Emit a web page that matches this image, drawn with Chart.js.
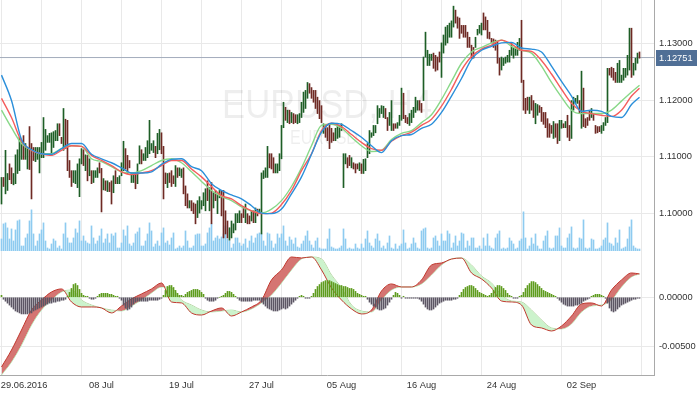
<!DOCTYPE html>
<html lang="en">
<head>
<meta charset="UTF-8">
<title>EURUSD, H4</title>
<script src="https://cdn.jsdelivr.net/npm/chart.js"></script>
<style>
  body { margin: 0; background: #fff; }
  #wrap { position: relative; width: 700px; height: 394px; }
  #priceBox { position: absolute; left: 0; top: 0; width: 700px; height: 251px; }
  #macdBox { position: absolute; left: 0; top: 251px; width: 700px; height: 143px; }
</style>
</head>
<body>
<div id="wrap">
  <div id="priceBox"><canvas id="priceChart"></canvas></div>
  <div id="macdBox"><canvas id="macdChart"></canvas></div>
</div>
<script>
// EURUSD H4 bars (bar 0 = first bar on the left)
const barHigh = [
  1.1063,1.1063,1.1111,1.1070,1.1087,1.1080,1.1070,1.1103,1.1112,1.1134,
  1.1128,1.1137,1.1123,1.1116,1.1153,1.1123,1.1116,1.1116,1.1116,1.1116,
  1.1125,1.1169,1.1148,1.1137,1.1141,1.1142,1.1144,1.1146,1.1158,1.1158,
  1.1134,1.1185,1.1166,1.1164,1.1093,1.1075,1.1075,1.1075,1.1087,1.1096,
  1.1114,1.1112,1.1103,1.1102,1.1096,1.1075,1.1075,1.1075,1.1080,1.1089,
  1.1079,1.1061,1.1057,1.1057,1.1054,1.1057,1.1066,1.1075,1.1063,1.1066,
  1.1089,1.1127,1.1114,1.1102,1.1093,1.1071,1.1070,1.1071,1.1087,1.1119,
  1.1112,1.1105,1.1116,1.1128,1.1164,1.1123,1.1128,1.1118,1.1141,1.1148,
  1.1142,1.1118,1.1071,1.1070,1.1071,1.1075,1.1066,1.1084,1.1080,1.1080,
  1.1078,1.1080,1.1048,1.1034,1.1022,1.1022,1.1018,1.1016,1.1022,1.1029,
  1.1022,1.1036,1.1043,1.1057,1.1045,1.1054,1.1036,1.1040,1.1034,1.1040,
  1.1040,1.1040,1.1004,1.0986,1.0974,1.0986,1.0981,1.0999,1.0999,1.1004,
  1.0999,1.1009,1.1016,1.0999,1.0995,1.1004,1.1004,1.1009,1.1007,1.1007,
  1.1071,1.1075,1.1080,1.1118,1.1105,1.1105,1.1098,1.1087,1.1087,1.1105,
  1.1155,1.1196,1.1187,1.1182,1.1182,1.1178,1.1176,1.1174,1.1174,1.1176,
  1.1196,1.1214,1.1217,1.1231,1.1229,1.1222,1.1217,1.1217,1.1205,1.1199,
  1.1190,1.1158,1.1155,1.1151,1.1158,1.1150,1.1142,1.1150,1.1155,1.1155,
  1.1158,1.1105,1.1105,1.1098,1.1102,1.1098,1.1089,1.1087,1.1087,1.1089,
  1.1087,1.1095,1.1096,1.1123,1.1146,1.1142,1.1155,1.1155,1.1190,1.1185,
  1.1190,1.1189,1.1185,1.1169,1.1178,1.1199,1.1158,1.1158,1.1160,1.1173,
  1.1221,1.1212,1.1173,1.1169,1.1176,1.1182,1.1187,1.1205,1.1199,1.1199,
  1.1194,1.1276,1.1320,1.1288,1.1281,1.1281,1.1283,1.1279,1.1276,1.1285,
  1.1301,1.1315,1.1329,1.1332,1.1336,1.1340,1.1366,1.1359,1.1347,1.1345,
  1.1332,1.1332,1.1332,1.1320,1.1311,1.1297,1.1293,1.1311,1.1325,1.1332,
  1.1336,1.1354,1.1347,1.1341,1.1320,1.1309,1.1308,1.1306,1.1302,1.1274,
  1.1276,1.1274,1.1276,1.1279,1.1288,1.1301,1.1293,1.1293,1.1302,1.1309,
  1.1341,1.1235,1.1203,1.1205,1.1205,1.1208,1.1199,1.1194,1.1192,1.1190,
  1.1187,1.1178,1.1178,1.1167,1.1158,1.1155,1.1162,1.1158,1.1158,1.1164,
  1.1164,1.1158,1.1162,1.1173,1.1155,1.1199,1.1205,1.1203,1.1208,1.1199,
  1.1251,1.1221,1.1167,1.1169,1.1182,1.1185,1.1176,1.1155,1.1153,1.1153,
  1.1155,1.1160,1.1169,1.1256,1.1256,1.1258,1.1256,1.1249,1.1265,1.1270,
  1.1244,1.1256,1.1256,1.1279,1.1327,1.1327,1.1265,1.1274,1.1283,1.1285
];
const barLow = [
  1.1016,1.1047,1.1034,1.1040,1.1059,1.1052,1.1050,1.1052,1.1070,1.1075,
  1.1095,1.1095,1.1095,1.1078,1.1077,1.1025,1.1093,1.1091,1.1095,1.1071,
  1.1098,1.1098,1.1111,1.1125,1.1125,1.1102,1.1116,1.1128,1.1128,1.1137,
  1.1123,1.1111,1.1114,1.1075,1.1063,1.1047,1.1054,1.1052,1.1045,1.1029,
  1.1087,1.1084,1.1075,1.1057,1.1066,1.1052,1.1054,1.1063,1.1063,1.1071,
  1.1002,1.1041,1.1040,1.1038,1.1038,1.1016,1.1036,1.1052,1.1052,1.1052,
  1.1066,1.1075,1.1078,1.1070,1.1080,1.1054,1.1054,1.1043,1.1052,1.1087,
  1.1087,1.1093,1.1093,1.1098,1.1105,1.1111,1.1107,1.1098,1.1105,1.1112,
  1.1105,1.1025,1.1052,1.1045,1.1054,1.1047,1.1052,1.1047,1.1063,1.1066,
  1.1063,1.1034,1.1013,1.1009,1.1009,1.1004,1.0999,1.0981,1.0992,1.1000,
  1.1007,1.1013,1.1004,1.1022,1.1004,1.0981,1.1009,1.1022,1.0999,1.1027,
  1.0995,1.0956,1.0963,1.0956,1.0952,1.0956,1.0965,1.0970,1.0983,1.0983,
  1.0983,1.0992,1.0983,1.0981,1.0981,1.0986,1.0983,1.0983,1.0995,1.0999,
  1.0963,1.1061,1.1063,1.1063,1.1080,1.1078,1.1071,1.1071,1.1071,1.1075,
  1.1096,1.1151,1.1164,1.1160,1.1158,1.1160,1.1158,1.1160,1.1158,1.1160,
  1.1169,1.1178,1.1185,1.1203,1.1212,1.1203,1.1196,1.1185,1.1176,1.1167,
  1.1160,1.1141,1.1134,1.1128,1.1114,1.1125,1.1128,1.1128,1.1132,1.1134,
  1.1146,1.1045,1.1087,1.1080,1.1084,1.1080,1.1078,1.1071,1.1078,1.1075,
  1.1070,1.1070,1.1075,1.1098,1.1105,1.1134,1.1137,1.1142,1.1158,1.1169,
  1.1176,1.1169,1.1167,1.1146,1.1155,1.1146,1.1146,1.1150,1.1150,1.1155,
  1.1164,1.1167,1.1160,1.1158,1.1155,1.1160,1.1169,1.1178,1.1182,1.1182,
  1.1178,1.1199,1.1276,1.1261,1.1261,1.1270,1.1256,1.1251,1.1253,1.1267,
  1.1240,1.1283,1.1297,1.1301,1.1311,1.1311,1.1329,1.1336,1.1327,1.1309,
  1.1318,1.1311,1.1311,1.1293,1.1293,1.1274,1.1274,1.1293,1.1315,1.1318,
  1.1315,1.1324,1.1324,1.1309,1.1308,1.1301,1.1293,1.1288,1.1265,1.1244,
  1.1253,1.1261,1.1265,1.1267,1.1267,1.1279,1.1274,1.1279,1.1279,1.1288,
  1.1231,1.1182,1.1176,1.1182,1.1176,1.1182,1.1169,1.1158,1.1173,1.1178,
  1.1162,1.1157,1.1151,1.1134,1.1134,1.1141,1.1132,1.1134,1.1123,1.1128,
  1.1150,1.1151,1.1151,1.1134,1.1128,1.1132,1.1182,1.1194,1.1194,1.1176,
  1.1150,1.1153,1.1151,1.1155,1.1164,1.1169,1.1164,1.1141,1.1142,1.1144,
  1.1141,1.1146,1.1155,1.1160,1.1244,1.1240,1.1235,1.1231,1.1231,1.1231,
  1.1231,1.1235,1.1240,1.1244,1.1253,1.1240,1.1244,1.1253,1.1265,1.1274
];
// u = close above open, d = close below open
const barDir = [
  'uduudduuuu','uduuddduuu','uuuuuuuuud','dudddduuuu','udududuuud',
  'dududduduu','uuddduuduu','duuuuuuduu','dddudddudu','uddduddduu',
  'uuudududuu','dddduuuuuu','dduddududu','uuuuddduuu','uudududduu',
  'uuuudddddd','duddddduuu','uuuddudddu','duuuuuuuuu','uudduudduu',
  'uddduuuuud','duuuuudddd','uuuuuuuddd','ddddddduuu','uddddddddd',
  'uuuuuuuuuu','ddddudduud','dddddduddu','ududduuuud','uddddudddd',
  'uuuudddduu','uuuuuduuud'
].join('');
const tickVolume = [
  12,27,28,23,12,22,10,21,30,31,5,5,13,17,30,41,17,5,10,17,21,28,10,3,2,7,12,10,3,5,
  2,17,28,13,8,8,13,22,18,30,10,15,10,8,7,25,13,7,10,15,22,8,12,17,8,
  17,15,18,3,3,8,21,15,25,7,5,8,17,19,23,5,5,10,17,28,20,4,7,10,5,18,23,8,10,6,
  13,18,2,3,5,3,5,20,10,3,3,5,16,17,17,5,5,7,18,23,
  27,10,13,15,12,14,17,25,12,10,3,7,13,13,8,5,7,12,3,10,15,8,13,17,18,17,10,5,18,17,
  10,3,7,17,13,17,25,10,5,14,11,7,13,4,3,7,10,15,20,10,6,3,
  10,13,3,2,2,2,12,22,4,3,2,2,3,5,22,12,2,3,2,2,7,3,2,7,3,12,20,8,5,3,
  12,17,10,3,5,2,8,15,3,2,7,2,5,7,21,8,2,3,7,13,8,3,2,
  20,22,23,3,2,3,13,15,10,5,17,10,10,20,17,3,8,15,5,10,18,17,3,10,5,13,13,3,3,5,
  2,13,5,17,5,3,2,13,17,20,2,3,2,3,13,10,7,2,3,10,12,39,
  13,2,5,13,7,17,5,2,2,10,15,20,3,2,3,15,15,23,5,3,3,13,17,24,3,2,3,13,12,31,
  3,2,3,12,11,2,2,3,5,11,13,28,8,7,5,13,8,21,2,3,4,12,24,31,5,3,2,2
];

// moving averages and MACD, sampled at these bars
const maBars = [
  0,5,10,15,20,25,30,35,40,45,50,55,60,65,70,75,80,85,90,95,100,105,110,115,120,125,
  130,135,140,145,150,155,160,165,170,175,180,185,190,195,200,205,210,215,220,225,230,
  235,240,245,250,255,260,265,270,275,280,285,290,295,300,305,310,315,319
];
const maSlow = [
  1.1244,1.1199,1.1130,1.1112,1.1105,1.1104,1.1114,1.1123,1.1123,1.1104,
  1.1096,1.1089,1.1080,1.1071,1.1071,1.1073,1.1086,1.1095,1.1096,1.1082,
  1.1075,1.1052,1.1040,1.1032,1.1025,1.1013,1.1000,1.0999,1.1007,1.1034,
  1.1064,1.1104,1.1143,1.1159,1.1157,1.1146,1.1134,1.1119,1.1107,1.1128,
  1.1137,1.1139,1.1150,1.1157,1.1178,1.1207,1.1238,1.1272,1.1288,1.1295,
  1.1301,1.1302,1.1292,1.1290,1.1285,1.1260,1.1233,1.1207,1.1180,1.1182,
  1.1180,1.1171,1.1169,1.1192,1.1205
];
const maMid = [
  1.1203,1.1169,1.1127,1.1111,1.1105,1.1102,1.1111,1.1119,1.1118,1.1102,
  1.1093,1.1084,1.1073,1.1068,1.1071,1.1075,1.1084,1.1093,1.1093,1.1078,
  1.1064,1.1047,1.1031,1.1025,1.1013,1.1004,1.0999,1.1000,1.1015,1.1040,
  1.1075,1.1105,1.1146,1.1159,1.1153,1.1139,1.1125,1.1114,1.1111,1.1127,
  1.1137,1.1143,1.1155,1.1166,1.1189,1.1219,1.1253,1.1277,1.1290,1.1297,
  1.1306,1.1299,1.1288,1.1286,1.1270,1.1246,1.1219,1.1194,1.1180,1.1176,
  1.1173,1.1171,1.1182,1.1207,1.1221
];
const maFast = [
  1.1182,1.1151,1.1123,1.1111,1.1105,1.1105,1.1114,1.1119,1.1118,1.1096,
  1.1091,1.1082,1.1073,1.1071,1.1075,1.1084,1.1093,1.1096,1.1089,1.1073,
  1.1056,1.1040,1.1029,1.1022,1.1011,1.1004,1.1000,1.1007,1.1022,1.1047,
  1.1080,1.1119,1.1155,1.1157,1.1150,1.1134,1.1119,1.1109,1.1111,1.1130,
  1.1141,1.1146,1.1160,1.1174,1.1201,1.1233,1.1265,1.1285,1.1293,1.1301,
  1.1306,1.1295,1.1288,1.1283,1.1260,1.1231,1.1205,1.1182,1.1176,1.1176,
  1.1176,1.1182,1.1198,1.1214,1.1226
];
const macdMain = [
  -0.00711,-0.00538,-0.00334,-0.00130,-0.00028,0.00054,0.00085,-0.00048,-0.00099,-0.00099,
  -0.00109,-0.00160,-0.00089,-0.00017,0.00034,0.00085,0.00146,-0.00048,-0.00058,-0.00160,
  -0.00181,-0.00140,-0.00109,-0.00191,-0.00150,-0.00099,-0.00028,0.00177,0.00279,0.00411,
  0.00401,0.00411,0.00279,0.00095,-0.00028,-0.00119,-0.00170,-0.00130,0.00064,0.00136,
  0.00105,0.00105,0.00177,0.00329,0.00350,0.00390,0.00400,0.00248,0.00187,0.00095,
  -0.00038,-0.00048,-0.00079,-0.00283,-0.00313,-0.00344,-0.00293,-0.00191,-0.00068,-0.00058,
  -0.00089,0.00074,0.00177,0.00248,0.00238
];
const macdSignal = [
  -0.00793,-0.00660,-0.00487,-0.00283,-0.00130,-0.00028,0.00054,0.00074,-0.00028,-0.00079,
  -0.00109,-0.00130,-0.00140,-0.00089,-0.00028,0.00044,0.00105,0.00095,-0.00028,-0.00079,
  -0.00130,-0.00150,-0.00140,-0.00130,-0.00150,-0.00119,-0.00058,0.00023,0.00146,0.00279,
  0.00391,0.00411,0.00391,0.00228,0.00095,-0.00079,-0.00140,-0.00150,-0.00028,0.00074,
  0.00105,0.00105,0.00136,0.00228,0.00329,0.00391,0.00401,0.00329,0.00217,0.00146,
  0.00023,-0.00038,-0.00048,-0.00130,-0.00232,-0.00313,-0.00323,-0.00272,-0.00150,-0.00089,
  -0.00079,-0.00028,0.00105,0.00207,0.00238
];
// histogram, one value per bar
const macdHist = [
  0.0002,-0.0002,-0.0004,-0.0006,-0.0008,-0.0010,-0.0012,-0.0014,-0.0015,-0.0016,
  -0.0017,-0.0017,-0.0017,-0.0017,-0.0016,-0.0016,-0.0014,-0.0013,-0.0012,-0.0011,
  -0.0010,-0.0009,-0.0008,-0.0007,-0.0006,-0.0006,-0.0005,-0.0005,-0.0004,-0.0004,
  -0.0003,-0.0003,-0.0002,0.0001,0.0005,0.0009,0.0013,0.0014,0.0012,0.0008,
  0.0004,0.0002,0.0001,0.0001,-0.0001,-0.0002,-0.0002,-0.0001,0.0001,0.0003,
  0.0004,0.0004,0.0004,0.0004,0.0003,0.0003,0.0002,0.0001,0.0001,-0.0001,
  -0.0003,-0.0008,-0.0011,-0.0013,-0.0012,-0.0010,-0.0007,-0.0005,-0.0004,-0.0004,
  -0.0004,-0.0004,-0.0004,-0.0004,-0.0003,-0.0003,-0.0003,-0.0003,-0.0003,-0.0002,
  -0.0001,0.0002,0.0007,0.0011,0.0012,0.0012,0.0010,0.0007,0.0004,0.0002,
  0.0002,0.0001,0.0003,0.0005,0.0006,0.0007,0.0008,0.0008,0.0008,0.0007,
  0.0005,0.0003,-0.0001,-0.0003,-0.0004,-0.0004,-0.0004,-0.0003,-0.0001,0,
  0.0001,0.0002,0.0004,0.0006,0.0006,0.0005,0.0003,0.0001,-0.0001,-0.0003,
  -0.0004,-0.0004,-0.0004,-0.0004,-0.0004,-0.0004,-0.0003,-0.0003,-0.0003,-0.0003,
  -0.0005,-0.0007,-0.0009,-0.0011,-0.0012,-0.0013,-0.0014,-0.0014,-0.0014,-0.0013,
  -0.0012,-0.0011,-0.0012,-0.0011,-0.0009,-0.0007,-0.0005,-0.0003,-0.0001,0.0001,
  0.0002,0.0001,-0.0001,-0.0001,-0.0001,0.0001,0.0004,0.0008,0.0011,0.0013,
  0.0015,0.0016,0.0017,0.0017,0.0017,0.0016,0.0015,0.0014,0.0013,0.0012,
  0.0012,0.0011,0.0011,0.0010,0.0009,0.0009,0.0008,0.0006,0.0004,0.0003,
  0.0002,0.0001,0.0001,-0.0002,-0.0005,-0.0007,-0.0009,-0.0010,-0.0012,-0.0013,
  -0.0013,-0.0012,-0.0011,-0.0008,-0.0005,-0.0002,0.0002,0.0005,0.0004,0.0002,
  -0.0001,0.0001,-0.0001,-0.0001,-0.0001,-0.0001,-0.0001,-0.0001,-0.0001,-0.0002,
  -0.0004,-0.0007,-0.0010,-0.0012,-0.0013,-0.0013,-0.0012,-0.0010,-0.0008,-0.0006,
  -0.0005,-0.0004,-0.0003,-0.0003,-0.0003,-0.0003,-0.0002,-0.0002,-0.0001,0.0002,
  0.0005,0.0008,0.0010,0.0011,0.0012,0.0012,0.0011,0.0009,0.0007,0.0005,
  0.0004,0.0003,0.0002,0.0001,0.0002,0.0004,0.0007,0.0010,0.0012,0.0012,
  0.0011,0.0009,0.0007,0.0004,0.0002,0.0001,-0.0001,-0.0001,-0.0001,0.0001,
  0.0002,0.0005,0.0009,0.0012,0.0014,0.0016,0.0016,0.0015,0.0013,0.0011,
  0.0009,0.0007,0.0006,0.0005,0.0004,0.0003,0.0002,0.0001,-0.0001,-0.0003,
  -0.0005,-0.0007,-0.0008,-0.0009,-0.0009,-0.0009,-0.0009,-0.0008,-0.0008,-0.0007,
  -0.0006,-0.0004,-0.0003,-0.0002,-0.0001,0.0001,0.0002,0.0003,0.0003,0.0003,
  0.0002,0.0001,-0.0001,-0.0006,-0.0011,-0.0014,-0.0015,-0.0014,-0.0012,-0.0010,
  -0.0008,-0.0007,-0.0006,-0.0005,-0.0004,-0.0003,-0.0002,-0.0002,-0.0001,-0.0001
];

const lastPrice = 1.12751;
const priceTicks = [1.10, 1.11, 1.12, 1.13];
const macdTicks = [-0.005, 0];
const gridBars = [10,30,50,70,90,110,130,150,170,190,210,230,250,270,290,310];
const dateBars = [10, 50, 90, 130, 170, 210, 250, 290];
const dateLabels = ['29.06.2016', '08 Jul', '19 Jul', '27 Jul', '05 Aug', '16 Aug', '24 Aug', '02 Sep'];

const xMin = -0.75, xMax = 326.25;
const gridColor = '#e9e9e9';
const axisColor = '#a9a9a9';
const labelFont = { family: '"Liberation Sans", Arial, sans-serif', size: 9.3 };

// keep both panels lined up: fixed axis sizes, no extra label padding
const fitY = s => { s.width = 46; s.paddingTop = 0; s.paddingBottom = 0; };
const fitX = h => s => { s.height = h; s.paddingLeft = 0; s.paddingRight = 0; };

// first date sits at the left edge, nudge it inside like the terminal does
const dateText = v => {
  const k = dateBars.indexOf(v);
  if (k < 0) return '';
  return k === 0 ? '  ' + dateLabels[k] : dateLabels[k];
};

const watermark = {
  id: 'watermark',
  beforeDatasetsDraw(chart) {
    const ctx = chart.ctx;
    ctx.save();
    ctx.fillStyle = 'rgba(0,0,0,0.065)';
    ctx.textAlign = 'center';
    ctx.textBaseline = 'alphabetic';
    ctx.font = '40px "Liberation Sans", Arial, sans-serif';
    ctx.fillText('EURUSD, H4', 327, 118, 210);
    ctx.font = '21px "Liberation Sans", Arial, sans-serif';
    ctx.fillText('EURUSD', 324, 144, 68);
    ctx.restore();
  }
};

const priceTag = {
  id: 'priceTag',
  afterDraw(chart) {
    const ctx = chart.ctx;
    const y = chart.scales.y.getPixelForValue(lastPrice);
    const left = chart.chartArea.right + 2;
    ctx.save();
    ctx.fillStyle = '#506f96';
    ctx.fillRect(left, Math.round(y) - 8, 41, 16);
    ctx.fillStyle = '#ffffff';
    ctx.font = '9.3px "Liberation Sans", Arial, sans-serif';
    ctx.textBaseline = 'middle';
    ctx.fillText(lastPrice.toFixed(5), left + 3, y + 0.5);
    ctx.restore();
  }
};

new Chart(document.getElementById('priceChart'), {
  type: 'bar',
  data: {
    datasets: [
      {
        type: 'line', data: [{ x: xMin, y: lastPrice }, { x: xMax, y: lastPrice }],
        borderColor: '#a3acbc', borderWidth: 1, pointRadius: 0, order: 6
      },
      {
        type: 'line', data: maBars.map((b, k) => ({ x: b, y: maSlow[k] })),
        borderColor: '#2b8fda', borderWidth: 1.4, pointRadius: 0, cubicInterpolationMode: 'monotone', order: 1
      },
      {
        type: 'line', data: maBars.map((b, k) => ({ x: b, y: maMid[k] })),
        borderColor: '#f45d5d', borderWidth: 1.4, pointRadius: 0, cubicInterpolationMode: 'monotone', order: 1
      },
      {
        type: 'line', data: maBars.map((b, k) => ({ x: b, y: maFast[k] })),
        borderColor: '#88d888', borderWidth: 1.4, pointRadius: 0, cubicInterpolationMode: 'monotone', order: 1
      },
      {
        data: barHigh.map((h, i) => ({ x: i, y: [barLow[i], h] })),
        backgroundColor: barDir.split('').map(d => d === 'u' ? '#1e5e26' : '#6e2a24'),
        barThickness: 1, grouped: false, order: 3
      },
      {
        data: tickVolume.map((v, i) => ({ x: i, y: v })),
        backgroundColor: '#8ecbf0', barThickness: 1, grouped: false, yAxisID: 'yv', order: 7
      }
    ]
  },
  options: {
    responsive: true, maintainAspectRatio: false, animation: false,
    layout: { padding: 0 },
    plugins: { legend: { display: false }, tooltip: { enabled: false } },
    scales: {
      x: {
        type: 'linear', min: xMin, max: xMax, offset: false,
        grid: { color: gridColor, drawTicks: false },
        border: { display: true, color: axisColor },
        ticks: { display: false },
        afterBuildTicks: s => { s.ticks = gridBars.map(v => ({ value: v })); },
        afterFit: fitX(0)
      },
      y: {
        position: 'right', min: 1.09329, max: 1.13769,
        grid: { color: gridColor, drawTicks: false },
        border: { display: true, color: axisColor },
        ticks: { padding: 5, color: '#333', font: labelFont, callback: v => v.toFixed(5) },
        afterBuildTicks: s => { s.ticks = priceTicks.map(v => ({ value: v })); },
        afterFit: fitY
      },
      yv: { display: false, min: 0, max: 250 }
    }
  },
  plugins: [watermark, priceTag]
});

new Chart(document.getElementById('macdChart'), {
  type: 'bar',
  data: {
    datasets: [
      {
        data: macdHist.map((v, i) => ({ x: i, y: v })),
        backgroundColor: macdHist.map(v => v >= 0 ? '#5e9c1e' : '#5c5664'),
        barThickness: 1, grouped: false, order: 0
      },
      {
        type: 'line', data: maBars.map((b, k) => ({ x: b, y: macdMain[k] })),
        borderColor: '#c0392f', borderWidth: 1, pointRadius: 0, cubicInterpolationMode: 'monotone',
        fill: { target: '+1', above: '#d57572', below: '#ccf3cc' }, order: 1
      },
      {
        type: 'line', data: maBars.map((b, k) => ({ x: b, y: macdSignal[k] })),
        borderColor: '#b4ebb4', borderWidth: 1, pointRadius: 0, cubicInterpolationMode: 'monotone', order: 2
      }
    ]
  },
  options: {
    responsive: true, maintainAspectRatio: false, animation: false,
    layout: { padding: 0 },
    plugins: { legend: { display: false }, tooltip: { enabled: false } },
    scales: {
      x: {
        type: 'linear', min: xMin, max: xMax, offset: false,
        grid: { color: gridColor, drawTicks: false },
        border: { display: true, color: axisColor },
        ticks: {
          autoSkip: false, maxRotation: 0, padding: 5, color: '#333', font: labelFont,
          callback: dateText
        },
        afterBuildTicks: s => { s.ticks = gridBars.map(v => ({ value: v })); },
        afterFit: fitX(19)
      },
      y: {
        position: 'right', min: -0.00793, max: 0.00472,
        grid: { color: gridColor, drawTicks: false },
        border: { display: true, color: axisColor },
        ticks: { padding: 5, color: '#333', font: labelFont, callback: v => v.toFixed(5) },
        afterBuildTicks: s => { s.ticks = macdTicks.map(v => ({ value: v })); },
        afterFit: fitY
      }
    }
  }
});
</script>
</body>
</html>
